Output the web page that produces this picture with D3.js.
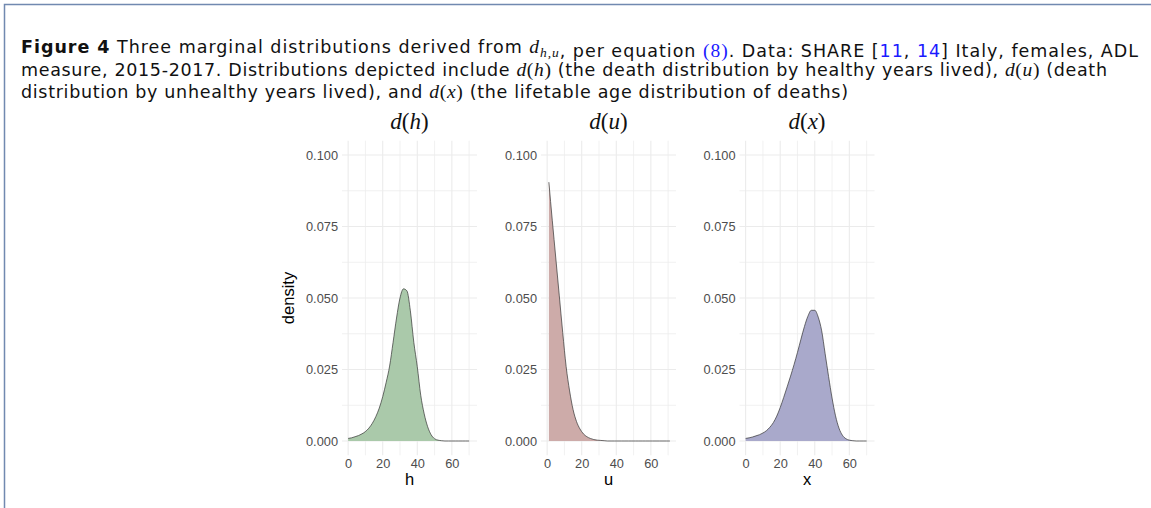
<!DOCTYPE html>
<html>
<head>
<meta charset="utf-8">
<script src="https://cdn.jsdelivr.net/npm/d3@7"></script>
<style>
  body { margin: 0; background: #fff; }
  svg { display: block; }
</style>
</head>
<body>
<script>
const hAges = [0, 2, 4, 6, 8, 10, 12, 14, 16, 18, 20, 22, 24, 26, 28, 30, 32, 34,
               36, 38, 40, 42, 44, 46, 48, 50, 52, 54, 56, 58, 60, 62, 64, 66, 68, 70];
const dH = [0.0009, 0.0011, 0.0015, 0.0019, 0.0025, 0.0033, 0.0045, 0.0062, 0.0085, 0.0115,
            0.0155, 0.0205, 0.0262, 0.0345, 0.0430, 0.0500, 0.0532, 0.0525, 0.0455, 0.0345,
            0.0260, 0.0160, 0.0095, 0.0050, 0.0022, 0.0008, 0.0003, 0.0001, 0, 0,
            0, 0, 0, 0, 0, 0];

const uAges = [1, 3, 5, 7, 9, 11, 13, 15, 17, 19, 21, 23, 25, 27, 29, 31, 33, 35,
               37, 39, 41, 43, 45, 47, 49, 51, 53, 55, 57, 59, 61, 63, 65, 67, 69, 71];
const dU = [0.0905, 0.0770, 0.0640, 0.0510, 0.0380, 0.0260, 0.0175, 0.0110, 0.0068, 0.0042,
            0.0025, 0.0015, 0.0009, 0.0005, 0.0003, 0.0002, 0.0001, 0, 0, 0,
            0, 0, 0, 0, 0, 0, 0, 0, 0, 0,
            0, 0, 0, 0, 0, 0];

const xAges = [0, 2, 4, 6, 8, 10, 12, 14, 16, 18, 20, 22, 24, 26, 28, 30, 32, 34,
               36, 38, 40, 42, 44, 46, 48, 50, 52, 54, 56, 58, 60, 62, 64, 66, 68, 70];
const dX = [0.0009, 0.0011, 0.0014, 0.0018, 0.0022, 0.0028, 0.0036, 0.0048, 0.0064, 0.0087,
            0.0117, 0.0152, 0.0189, 0.0227, 0.0267, 0.0310, 0.0356, 0.0400, 0.0436, 0.0457,
            0.0457, 0.0433, 0.0385, 0.0305, 0.0225, 0.0150, 0.0088, 0.0045, 0.0020, 0.0008,
            0.0003, 0.0001, 0, 0, 0, 0];

const panelNames = ['h', 'u', 'x'];
const panelFills = ['#aac9aa', '#cdaba9', '#a9a9cb'];
const xTicks = [0, 20, 40, 60];
const yTicks = [0, 0.025, 0.05, 0.075, 0.1];

const W = 1151, H = 508;
const svg = d3.select('body').append('svg')
    .attr('width', W)
    .attr('height', H);

svg.append('rect').attr('width', W).attr('height', H).attr('fill', '#fff');

// frame of the figure box
svg.append('path')
    .attr('d', `M4.5,${H} V4.5 H${W}`)
    .attr('fill', 'none')
    .attr('stroke', '#7189b0')
    .attr('stroke-width', 1.5);

// ---- caption ----
const sans = '"Liberation Sans", Arial, sans-serif';
const capSans = '"DejaVu Sans", "Liberation Sans", sans-serif';
const serif = '"Liberation Serif", "Times New Roman", serif';
const blue = '#1a1aff';

function captionLine(yPos, width, parts) {
    const t = svg.append('text')
        .attr('x', 21)
        .attr('y', yPos)
        .attr('font-family', capSans)
        .attr('font-size', 17.5)
        .attr('fill', '#111')
        .attr('textLength', width)
        .attr('lengthAdjust', 'spacing');
    parts.forEach(p => {
        if (typeof p === 'string') {
            t.append('tspan').text(p);
        } else if (p.bold) {
            t.append('tspan').attr('font-weight', 'bold').text(p.bold);
        } else if (p.link) {
            t.append('tspan').attr('fill', blue).text(p.link);
        } else if (p.ref) {
            t.append('tspan').attr('fill', blue).attr('font-family', serif).attr('font-size', 19.5).text(p.ref);
        } else if (p.math) {
            t.append('tspan').attr('font-family', serif).attr('font-size', 19.5)
                .attr('font-style', 'italic').text(p.math);
            t.append('tspan').attr('font-family', serif).attr('font-size', 19.5).text('(');
            t.append('tspan').attr('font-family', serif).attr('font-size', 19.5)
                .attr('font-style', 'italic').text(p.arg);
            t.append('tspan').attr('font-family', serif).attr('font-size', 19.5).text(')');
        } else if (p.sub) {
            t.append('tspan').attr('font-family', serif).attr('font-size', 19.5)
                .attr('font-style', 'italic').text('d');
            t.append('tspan').attr('font-family', serif).attr('font-size', 13.5)
                .attr('font-style', 'italic').attr('dy', 4).text(p.sub);
            t.append('tspan').attr('dy', -4).text('');
        }
    });
}

captionLine(53, 1117, [{bold: 'Figure 4'}, '  Three marginal distributions derived from ', {sub: 'h,u'},
    ', per equation ', {ref: '(8)'}, '. Data: SHARE [', {link: '11'}, ', ', {link: '14'},
    '] Italy, females, ADL']);
captionLine(75.5, 1086, ['measure, 2015-2017. Distributions depicted include ', {math: 'd', arg: 'h'},
    ' (the death distribution by healthy years lived), ', {math: 'd', arg: 'u'}, ' (death']);
captionLine(98, 827, ['distribution by unhealthy years lived), and ', {math: 'd', arg: 'x'},
    ' (the lifetable age distribution of deaths)']);

// ---- panels ----
const panelLeft = [342, 541, 739.5];
const panelW = 135;
const plotTop = 140.7, plotBottom = 455.3;

const y = d3.scaleLinear().domain([-0.005, 0.105]).range([plotBottom, plotTop]);

const series = [
    {ages: hAges, dens: dH},
    {ages: uAges, dens: dU},
    {ages: xAges, dens: dX}
];

series.forEach((s, i) => {
    const x = d3.scaleLinear()
        .domain([-3.55, 74.55])
        .range([panelLeft[i], panelLeft[i] + panelW]);
    const g = svg.append('g');

    // minor grid
    const xMinor = [10, 30, 50, 70];
    const yMinor = [0.0125, 0.0375, 0.0625, 0.0875];
    g.selectAll('.xminor').data(xMinor).enter().append('line')
        .attr('x1', d => x(d)).attr('x2', d => x(d))
        .attr('y1', plotTop).attr('y2', plotBottom)
        .attr('stroke', '#eeeeee').attr('stroke-width', 0.8);
    g.selectAll('.yminor').data(yMinor).enter().append('line')
        .attr('x1', panelLeft[i]).attr('x2', panelLeft[i] + panelW)
        .attr('y1', d => y(d)).attr('y2', d => y(d))
        .attr('stroke', '#eeeeee').attr('stroke-width', 0.8);
    // major grid
    g.selectAll('.xmajor').data(xTicks).enter().append('line')
        .attr('x1', d => x(d)).attr('x2', d => x(d))
        .attr('y1', plotTop).attr('y2', plotBottom)
        .attr('stroke', '#ebebeb').attr('stroke-width', 1.1);
    g.selectAll('.ymajor').data(yTicks).enter().append('line')
        .attr('x1', panelLeft[i]).attr('x2', panelLeft[i] + panelW)
        .attr('y1', d => y(d)).attr('y2', d => y(d))
        .attr('stroke', '#ebebeb').attr('stroke-width', 1.1);

    const pts = s.ages.map((a, k) => [a, s.dens[k]]);

    const area = d3.area()
        .x(d => x(d[0]))
        .y0(y(0))
        .y1(d => y(d[1]))
        .curve(d3.curveMonotoneX);
    const line = d3.line()
        .x(d => x(d[0]))
        .y(d => y(d[1]))
        .curve(d3.curveMonotoneX);

    g.append('path').datum(pts)
        .attr('d', area)
        .attr('fill', panelFills[i]);
    g.append('path').datum(pts)
        .attr('d', line)
        .attr('fill', 'none')
        .attr('stroke', '#333')
        .attr('stroke-width', 0.7);

    // axes (labels only, ggplot minimal style)
    const ax = g.append('g')
        .attr('transform', `translate(0,${plotBottom})`)
        .call(d3.axisBottom(x).tickValues(xTicks).tickSize(0).tickPadding(4));
    const ay = g.append('g')
        .attr('transform', `translate(${panelLeft[i]},0)`)
        .call(d3.axisLeft(y).tickValues(yTicks).tickFormat(d3.format('.3f')).tickSize(0).tickPadding(4));
    [ax, ay].forEach(a => {
        a.select('.domain').remove();
        a.selectAll('text')
            .attr('font-family', sans)
            .attr('font-size', 12.8)
            .attr('fill', '#4d4d4d');
    });

    const cx = panelLeft[i] + panelW / 2;
    // panel title
    const tt = g.append('text')
        .attr('x', cx).attr('y', 129)
        .attr('text-anchor', 'middle')
        .attr('font-family', serif)
        .attr('font-size', 23)
        .attr('fill', '#111');
    tt.append('tspan').attr('font-style', 'italic').text('d');
    tt.append('tspan').text('(');
    tt.append('tspan').attr('font-style', 'italic').text(panelNames[i]);
    tt.append('tspan').text(')');

    // x axis title
    g.append('text')
        .attr('x', cx).attr('y', 485)
        .attr('text-anchor', 'middle')
        .attr('font-family', sans)
        .attr('font-size', 16.5)
        .attr('fill', '#000')
        .text(panelNames[i]);
});

svg.append('text')
    .attr('transform', `translate(294,${(plotTop + plotBottom) / 2}) rotate(-90)`)
    .attr('text-anchor', 'middle')
    .attr('font-family', sans)
    .attr('font-size', 16.5)
    .attr('fill', '#000')
    .text('density');
</script>
</body>
</html>
